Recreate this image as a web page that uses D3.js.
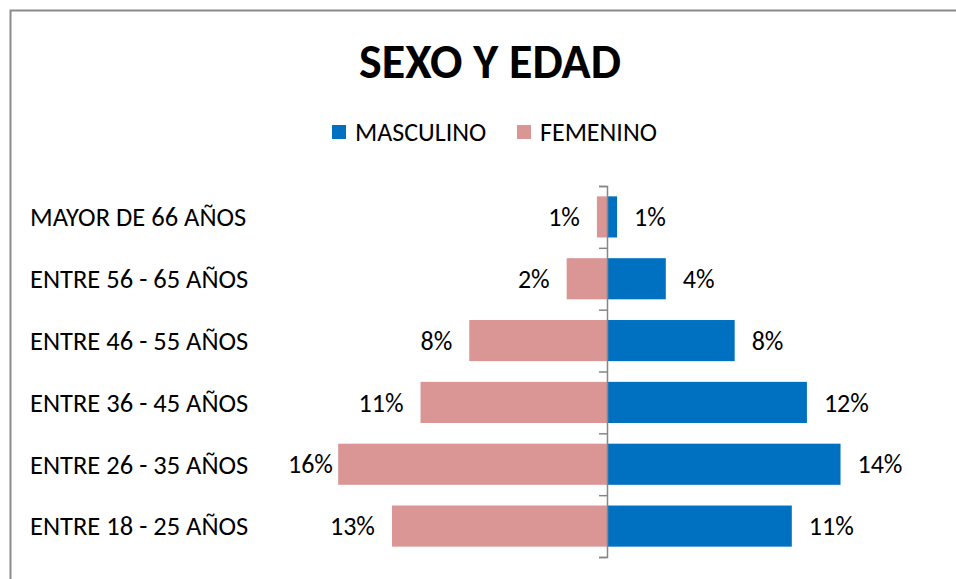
<!DOCTYPE html>
<html>
<head>
<meta charset="utf-8">
<script src="https://cdn.jsdelivr.net/npm/d3@7"></script>
<style>
  body { margin: 0; background: #fff; }
  svg text { font-family: Carlito, Calibri, "Open Sans", sans-serif; fill: #000; }
</style>
</head>
<body>
<svg id="chart" width="956" height="579"></svg>
<script>
// top to bottom
var categories = ["MAYOR DE 66 AÑOS", "ENTRE 56 - 65 AÑOS", "ENTRE 46 - 55 AÑOS",
                  "ENTRE 36 - 45 AÑOS", "ENTRE 26 - 35 AÑOS", "ENTRE 18 - 25 AÑOS"];
var masculino = [0.6, 3.5, 7.6, 11.9, 13.9, 11.0];
var femenino  = [0.6, 2.4, 8.2, 11.1, 16.0, 12.8];
var seriesNames = ["MASCULINO", "FEMENINO"];
var colors = ["#0070C0", "#D99694"];

var svg = d3.select("#chart");

// chart border (cropped at right and bottom like the original)
svg.append("rect")
  .attr("x", 10.5).attr("y", 10.5)
  .attr("width", 980).attr("height", 620)
  .attr("fill", "#fff")
  .attr("stroke", "#8a8a8a")
  .attr("stroke-width", 2);

svg.append("text")
  .attr("x", 490).attr("y", 78)
  .attr("text-anchor", "middle")
  .style("font-size", "48px")
  .style("font-weight", "bold")
  .text("SEXO Y EDAD");

var x = d3.scaleLinear().domain([-20, 20]).range([271, 943]);
var y = d3.scaleBand().domain(categories).range([186, 557])
  .paddingInner(0.335).paddingOuter(0.1675);

var rows = categories.map(function(c, i){
  return { cat: c, m: masculino[i], f: femenino[i] };
});

// legend
var legend = svg.append("g").attr("class", "legend");
var lx = [332, 517];
seriesNames.forEach(function(name, i){
  legend.append("rect")
    .attr("x", lx[i]).attr("y", 125)
    .attr("width", 14).attr("height", 14)
    .attr("fill", colors[i]);
  legend.append("text")
    .attr("x", lx[i] + 23).attr("y", 140.5)
    .style("font-size", "26px")
    .text(name);
});

// category labels
svg.append("g").selectAll("text")
  .data(categories)
  .enter().append("text")
  .attr("x", 30)
  .attr("y", function(d){ return y(d) + y.bandwidth() / 2; })
  .attr("dy", "0.35em")
  .style("font-size", "26.5px")
  .text(function(d){ return d; });

// bars
var bars = svg.append("g");
bars.selectAll("rect.m")
  .data(rows)
  .enter().append("rect")
  .attr("class", "m")
  .attr("x", x(0))
  .attr("y", function(d){ return y(d.cat); })
  .attr("width", function(d){ return x(d.m) - x(0); })
  .attr("height", y.bandwidth())
  .attr("fill", colors[0]);
bars.selectAll("rect.f")
  .data(rows)
  .enter().append("rect")
  .attr("class", "f")
  .attr("x", function(d){ return x(-d.f); })
  .attr("y", function(d){ return y(d.cat); })
  .attr("width", function(d){ return x(0) - x(-d.f); })
  .attr("height", y.bandwidth())
  .attr("fill", colors[1]);

// data labels
var fmt = function(v){ return Math.round(v) + "%"; };
var labelGap = 17, labelMinX = 288;
svg.append("g").selectAll("text")
  .data(rows)
  .enter().append("text")
  .attr("x", function(d){ return x(d.m) + labelGap; })
  .attr("y", function(d){ return y(d.cat) + y.bandwidth() / 2; })
  .attr("dy", "0.35em")
  .style("font-size", "26px")
  .text(function(d){ return fmt(d.m); });
svg.append("g").selectAll("text")
  .data(rows)
  .enter().append("text")
  .attr("y", function(d){ return y(d.cat) + y.bandwidth() / 2; })
  .attr("dy", "0.35em")
  .attr("text-anchor", "end")
  .style("font-size", "26px")
  .text(function(d){ return fmt(d.f); })
  .attr("x", function(d){
    var w = this.getComputedTextLength();
    return Math.max(x(-d.f) - labelGap, labelMinX + w);
  });

// category axis at zero, ticks between categories
var yb = d3.scaleLinear().domain([0, categories.length]).range([186, 557]);
var axis = svg.append("g")
  .attr("transform", "translate(" + x(0) + ",0)")
  .call(d3.axisLeft(yb).ticks(categories.length).tickFormat("").tickSizeOuter(0).tickSize(8));
axis.selectAll("path, line")
  .attr("stroke", "#868686")
  .attr("stroke-width", 1.5);
</script>
</body>
</html>
